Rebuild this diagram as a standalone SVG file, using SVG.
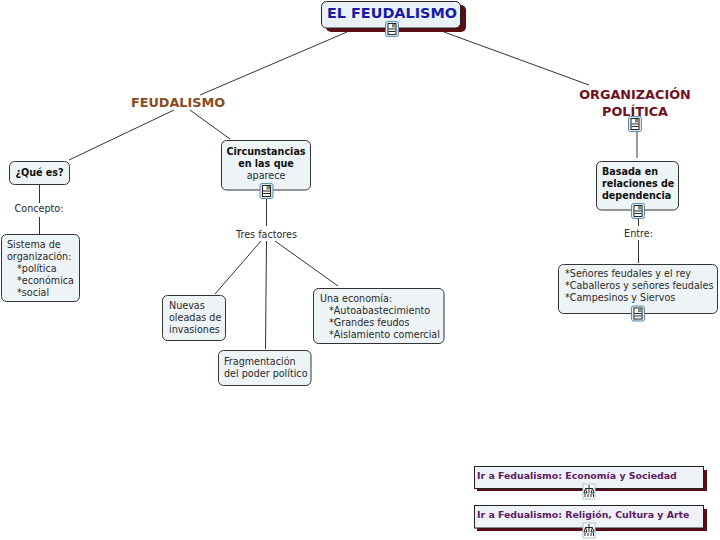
<svg xmlns="http://www.w3.org/2000/svg" width="720" height="540" viewBox="0 0 720 540">
<style>
text{font-family:"DejaVu Sans",Verdana,sans-serif;font-size:9.6px;fill:#2a2a2a}
.b{font-weight:bold;fill:#111}
.m{text-anchor:middle}
.box{fill:#eef3f6;stroke:#333;stroke-width:1}
.shadow{fill:#5a0d12}
.con{stroke:#333;stroke-width:1;fill:none}
.pur{font-weight:bold;font-size:9.4px;fill:#5d1a66}
.big{font-weight:bold;font-size:12.800px}
</style>
<defs>
<g id="icon"><rect x="0" y="0" width="13" height="15" rx="2" fill="#dbe8f2" stroke="#5f8bb0" stroke-width="1"/><rect x="2.500" y="2" width="8" height="11" fill="#fff" stroke="#222" stroke-width="1"/><path d="M3 7.500h7M3 10h7" stroke="#222" stroke-width="1"/><rect x="6.500" y="2.500" width="3.500" height="3.500" fill="#7a8a6a"/></g>
<g id="icon2"><rect x="0" y="0" width="12" height="15" fill="#fff" stroke="#a8c4d8" stroke-width="1"/><path d="M6 1v3M2.500 4.500h7M2.500 4.500L1 9h3zM9.500 4.500L8 9h3zM6 4.500v5M2 10v3M5 10v3M8 10v3M10.500 10v3" stroke="#222" stroke-width="1" fill="none"/></g>
</defs>
<rect width="720" height="540" fill="#fff"/>
<g id="connectors" class="con">
<path d="M347 32L200 95"/><path d="M444 32L589 85"/>
<path d="M174 110L69 160"/><path d="M190 110L230 139"/>
<path d="M39.500 185V203M39.500 217V234"/>
<path d="M266.500 198V226"/><path d="M261 241L215 294"/><path d="M266.500 241L265.500 349"/><path d="M275 241L338 286"/>
<path d="M637 131V158"/><path d="M638.500 218V226M638.500 240V263"/>
</g>
<g id="n-title"><rect class="shadow" x="326" y="5" width="140" height="27" rx="5"/><rect x="321.500" y="1.500" width="139" height="26.500" rx="5" fill="#e9f0f6" stroke="#222"/><text x="392" y="18" class="m" style="font-weight:bold;font-size:13.500px;fill:#1a1aa8" textLength="130" lengthAdjust="spacingAndGlyphs">EL FEUDALISMO</text><use href="#icon" x="385.500" y="21.500"/></g>
<g id="n-feudalismo"><text x="178" y="107" class="m big" style="fill:#8a4a1e">FEUDALISMO</text></g>
<g id="n-org"><text x="635" y="99" class="m big" style="fill:#701020">ORGANIZACIÓN</text><text x="635" y="115.500" class="m big" style="fill:#701020">POLÍTICA</text><use href="#icon" x="628.500" y="116.500"/></g>
<g id="n-que"><rect class="box" x="9.500" y="161.500" width="60" height="23" rx="5"/><text x="39.500" y="176" class="m b">¿Qué es?</text></g>
<g id="l-concepto"><text x="39" y="212" class="m">Concepto:</text></g>
<g id="n-sistema"><rect class="box" x="1.500" y="234.500" width="78" height="67" rx="5"/><text x="7" y="248">Sistema de</text><text x="7" y="260">organización:</text><text x="17" y="272">*política</text><text x="17" y="284">*económica</text><text x="17" y="296">*social</text></g>
<g id="n-circ"><rect class="box" x="221.500" y="140.500" width="89" height="49.500" rx="5"/><text x="266" y="155" class="m b">Circunstancias</text><text x="266" y="167" class="m b">en las que</text><text x="266" y="179" class="m">aparece</text><use href="#icon" x="260" y="183.500"/></g>
<g id="l-tres"><text x="266.500" y="238" class="m">Tres factores</text></g>
<g id="n-nuevas"><rect class="box" x="162.500" y="295.500" width="63" height="45" rx="5"/><text x="169" y="309">Nuevas</text><text x="169" y="321">oleadas de</text><text x="169" y="333">invasiones</text></g>
<g id="n-frag"><rect class="box" x="218.500" y="350.500" width="92.500" height="35" rx="5"/><text x="224" y="365">Fragmentación</text><text x="224" y="377">del poder político</text></g>
<g id="n-eco"><rect class="box" x="313.500" y="288.500" width="130.500" height="55" rx="5"/><text x="320" y="302">Una economía:</text><text x="329" y="314">*Autoabastecimiento</text><text x="329" y="326">*Grandes feudos</text><text x="329" y="338">*Aislamiento comercial</text></g>
<g id="n-basada"><rect class="box" x="596.500" y="161.500" width="82" height="48.500" rx="5"/><text x="602" y="175" class="b" style="font-weight:600">Basada en</text><text x="602" y="187" class="b" style="font-weight:600">relaciones de</text><text x="602" y="199" class="b">dependencia</text><use href="#icon" x="631.500" y="203.500"/></g>
<g id="l-entre"><text x="638.500" y="237" class="m">Entre:</text></g>
<g id="n-senores"><rect class="box" x="558.500" y="264.500" width="159" height="49" rx="5"/><text x="565" y="277">*Señores feudales y el rey</text><text x="565" y="289">*Caballeros y señores feudales</text><text x="565" y="301">*Campesinos y Siervos</text><use href="#icon" x="631.500" y="306"/></g>
<g id="n-ir1"><rect class="shadow" x="477" y="470" width="230" height="21"/><rect x="474.500" y="466.500" width="229" height="22" fill="#eef2f6" stroke="#222"/><text x="477" y="479" class="pur">Ir a Fedualismo: Economía y Sociedad</text><use href="#icon2" x="583" y="484"/></g>
<g id="n-ir2"><rect class="shadow" x="477" y="509" width="230" height="22"/><rect x="474.500" y="505.500" width="229" height="22.500" fill="#eef2f6" stroke="#222"/><text x="477" y="518" class="pur">Ir a Fedualismo: Religión, Cultura y Arte</text><use href="#icon2" x="583" y="523"/></g>
</svg>
